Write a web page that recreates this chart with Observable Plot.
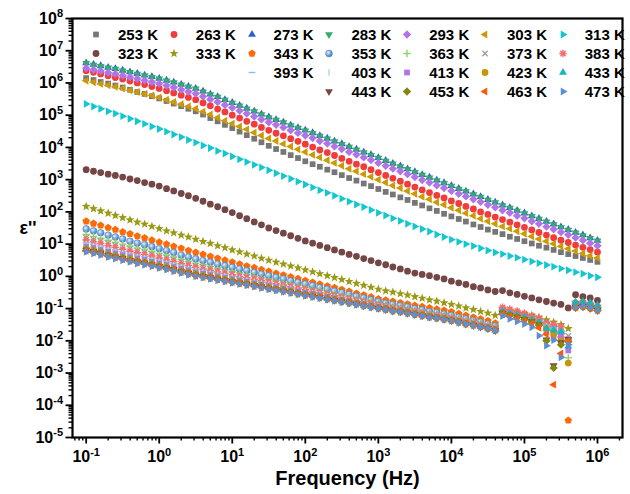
<!DOCTYPE html>
<html><head><meta charset="utf-8">
<script src="https://cdn.jsdelivr.net/npm/d3@7"></script>
<script src="https://cdn.jsdelivr.net/npm/@observablehq/plot@0.6"></script>
<style>
body{margin:0;background:#fff;}
#wrap{position:relative;width:630px;height:494px;font-family:"Liberation Sans",Arial,sans-serif;}
#wrap svg text{font-weight:bold;}
#legend{position:absolute;left:85px;top:24.5px;display:grid;grid-template-columns:repeat(7,77.8px);grid-auto-rows:19px;font-weight:bold;font-size:15px;color:#000;}
.item{display:flex;align-items:center;white-space:nowrap;}
.item svg{width:22px;height:19px;flex:none;overflow:visible;}
.item span{margin-left:11px;}
</style></head><body><div id="wrap"></div>
<script>
// ---------- data (ε'' given as log10) ----------
const freqHz=[0.1,0.126,0.158,0.2,0.251,0.316,0.398,0.501,0.631,0.794,
1,1.26,1.58,2,2.51,3.16,3.98,5.01,6.31,7.94,
10,12.6,15.8,20,25.1,31.6,39.8,50.1,63.1,79.4,
100,126,158,200,251,316,398,501,631,794,
1000,1260,1580,2000,2510,3160,3980,5010,6310,7940,
10000,12600,15800,20000,25100,31600,39800,50100,63100,79400,
100000,126000,158000,200000,251000,316000,398000,501000,631000,794000,
1000000];
const temperaturesK=[253,263,273,283,293,303,313,323,333,343,353,363,373,383,393,403,413,423,433,443,453,463,473];

const log10Eps253=[6.15,6.09,6.03,5.98,5.92,5.86,5.79,5.72,5.66,5.59,
5.52,5.44,5.36,5.28,5.20,5.12,5.02,4.91,4.81,4.70,
4.60,4.49,4.38,4.27,4.16,4.05,3.95,3.86,3.76,3.67,
3.57,3.48,3.40,3.31,3.23,3.14,3.05,2.97,2.88,2.80,
2.71,2.62,2.54,2.45,2.37,2.28,2.20,2.11,2.03,1.94,
1.86,1.78,1.70,1.61,1.53,1.45,1.38,1.31,1.23,1.16,
1.09,1.02,0.95,0.89,0.82,0.75,0.69,0.63,0.57,0.51,
0.45];
const log10Eps263=[6.38,6.33,6.28,6.22,6.17,6.12,6.06,6.00,5.95,5.89,
5.83,5.76,5.69,5.62,5.55,5.48,5.38,5.29,5.19,5.10,
5.00,4.91,4.81,4.72,4.62,4.53,4.44,4.36,4.27,4.19,
4.10,4.01,3.92,3.84,3.75,3.66,3.57,3.48,3.40,3.31,
3.22,3.13,3.04,2.95,2.86,2.77,2.68,2.60,2.51,2.43,
2.34,2.26,2.17,2.09,2.00,1.92,1.84,1.76,1.68,1.60,
1.52,1.44,1.36,1.28,1.20,1.12,1.05,0.97,0.90,0.83,
0.75];
const log10Eps273=[6.62,6.57,6.53,6.48,6.44,6.39,6.34,6.29,6.24,6.19,
6.14,6.08,6.02,5.95,5.89,5.83,5.74,5.65,5.57,5.48,
5.39,5.30,5.21,5.12,5.03,4.94,4.86,4.78,4.69,4.61,
4.53,4.45,4.36,4.28,4.19,4.11,4.02,3.94,3.85,3.77,
3.68,3.59,3.50,3.42,3.33,3.24,3.15,3.07,2.98,2.90,
2.81,2.72,2.64,2.55,2.47,2.38,2.30,2.21,2.13,2.04,
1.96,1.87,1.79,1.70,1.62,1.53,1.45,1.36,1.28,1.19,
1.11];
const log10Eps283=[6.61,6.56,6.52,6.47,6.43,6.38,6.33,6.28,6.23,6.18,
6.13,6.07,6.01,5.94,5.88,5.82,5.73,5.64,5.56,5.47,
5.38,5.29,5.20,5.11,5.02,4.93,4.85,4.77,4.68,4.60,
4.52,4.44,4.35,4.27,4.18,4.10,4.01,3.93,3.84,3.76,
3.67,3.58,3.49,3.41,3.32,3.23,3.14,3.06,2.97,2.89,
2.80,2.71,2.63,2.54,2.46,2.37,2.29,2.20,2.12,2.03,
1.95,1.86,1.78,1.69,1.61,1.52,1.44,1.35,1.27,1.18,
1.10];
const log10Eps293=[6.46,6.41,6.37,6.32,6.28,6.23,6.18,6.13,6.08,6.03,
5.98,5.92,5.86,5.79,5.73,5.67,5.58,5.49,5.41,5.32,
5.23,5.14,5.05,4.96,4.87,4.78,4.70,4.62,4.53,4.45,
4.37,4.29,4.20,4.12,4.03,3.95,3.86,3.78,3.69,3.61,
3.52,3.43,3.34,3.26,3.17,3.08,2.99,2.91,2.82,2.74,
2.65,2.56,2.48,2.39,2.31,2.22,2.14,2.05,1.97,1.88,
1.80,1.71,1.63,1.54,1.46,1.37,1.29,1.20,1.12,1.03,
0.95];
const log10Eps303=[6.07,6.02,5.97,5.93,5.88,5.83,5.77,5.72,5.66,5.61,
5.55,5.48,5.41,5.34,5.27,5.20,5.11,5.02,4.92,4.83,
4.74,4.65,4.56,4.46,4.37,4.28,4.20,4.11,4.03,3.94,
3.86,3.77,3.69,3.60,3.52,3.43,3.34,3.26,3.17,3.09,
3.00,2.91,2.82,2.74,2.65,2.56,2.47,2.39,2.30,2.22,
2.13,2.05,1.96,1.88,1.79,1.71,1.63,1.55,1.48,1.40,
1.32,1.24,1.16,1.09,1.01,0.93,0.86,0.79,0.71,0.64,
0.57];
const log10Eps313=[5.35,5.27,5.20,5.12,5.05,4.97,4.89,4.81,4.73,4.65,
4.57,4.49,4.40,4.32,4.23,4.15,4.06,3.98,3.89,3.81,
3.72,3.63,3.55,3.46,3.38,3.29,3.20,3.11,3.03,2.94,
2.85,2.76,2.67,2.59,2.50,2.41,2.32,2.23,2.15,2.06,
1.97,1.89,1.80,1.72,1.63,1.55,1.47,1.39,1.30,1.22,
1.14,1.07,1.00,0.94,0.87,0.80,0.74,0.69,0.63,0.58,
0.52,0.46,0.41,0.35,0.30,0.24,0.19,0.13,0.08,0.02,
-0.03];
const log10Eps323=[3.31,3.26,3.22,3.17,3.13,3.08,3.02,2.97,2.91,2.86,
2.80,2.72,2.65,2.57,2.50,2.42,2.33,2.24,2.16,2.07,
1.98,1.88,1.79,1.69,1.60,1.50,1.42,1.34,1.26,1.18,
1.10,1.03,0.96,0.89,0.82,0.75,0.68,0.62,0.55,0.49,
0.42,0.36,0.29,0.23,0.16,0.10,0.06,0.02,-0.03,-0.08,
-0.15,-0.20,-0.25,-0.32,-0.36,-0.42,-0.47,-0.44,-0.51,-0.56,
-0.62,-0.67,-0.73,-0.78,-0.83,-0.87,-0.98,-0.57,-0.63,-0.67,
-0.75];
const log10Eps333=[2.17,2.10,2.03,1.96,1.89,1.82,1.75,1.68,1.62,1.55,
1.48,1.41,1.35,1.28,1.22,1.15,1.08,1.02,0.95,0.89,
0.82,0.76,0.69,0.63,0.56,0.50,0.44,0.38,0.32,0.26,
0.20,0.14,0.08,0.02,-0.04,-0.10,-0.16,-0.22,-0.28,-0.34,
-0.40,-0.45,-0.49,-0.54,-0.58,-0.63,-0.68,-0.73,-0.77,-0.82,
-0.87,-0.92,-0.98,-1.03,-1.09,-1.14,-1.21,-1.00,-1.05,-1.10,
-1.15,-1.21,-1.27,-1.35,-1.42,-1.50,-1.62,-0.80,-0.84,-0.88,
-0.93];
const log10Eps343=[1.71,1.64,1.58,1.51,1.45,1.38,1.32,1.25,1.19,1.12,
1.06,1.00,0.93,0.87,0.80,0.74,0.68,0.62,0.56,0.50,
0.44,0.38,0.32,0.27,0.21,0.15,0.09,0.04,-0.02,-0.07,
-0.13,-0.19,-0.24,-0.30,-0.35,-0.41,-0.47,-0.53,-0.58,-0.64,
-0.70,-0.74,-0.78,-0.82,-0.86,-0.90,-0.94,-0.98,-1.02,-1.06,
-1.10,-1.16,-1.21,-1.27,-1.32,-1.38,-1.45,-1.02,-1.08,-1.14,
-1.20,-1.27,-1.35,-1.55,-1.70,-1.90,-4.47,-0.82,-0.80,-0.86,
-0.95];
const log10Eps353=[1.47,1.41,1.35,1.28,1.22,1.16,1.09,1.03,0.98,0.92,
0.86,0.80,0.74,0.66,0.60,0.54,0.49,0.44,0.38,0.33,
0.28,0.23,0.18,0.12,0.07,0.02,-0.03,-0.08,-0.14,-0.19,
-0.24,-0.29,-0.35,-0.40,-0.46,-0.51,-0.56,-0.62,-0.67,-0.73,
-0.78,-0.83,-0.87,-0.91,-0.95,-1.00,-1.04,-1.09,-1.12,-1.17,
-1.21,-1.27,-1.32,-1.37,-1.42,-1.48,-1.54,-1.04,-1.10,-1.16,
-1.22,-1.29,-1.37,-1.47,-1.58,-1.72,-1.95,-0.88,-0.86,-0.90,
-0.98];
const log10Eps363=[1.30,1.24,1.18,1.12,1.06,1.00,0.94,0.88,0.84,0.78,
0.72,0.66,0.60,0.53,0.47,0.41,0.36,0.31,0.26,0.21,
0.16,0.11,0.06,0.01,-0.04,-0.09,-0.13,-0.18,-0.23,-0.28,
-0.33,-0.38,-0.43,-0.48,-0.53,-0.58,-0.63,-0.68,-0.73,-0.78,
-0.83,-0.87,-0.92,-0.95,-1.00,-1.04,-1.08,-1.13,-1.16,-1.20,
-1.25,-1.30,-1.36,-1.40,-1.45,-1.51,-1.57,-1.06,-1.12,-1.18,
-1.25,-1.32,-1.40,-1.50,-1.62,-1.80,-2.53,-0.90,-0.88,-0.93,
-1.00];
const log10Eps373=[1.20,1.14,1.09,1.02,0.96,0.91,0.85,0.79,0.74,0.69,
0.63,0.57,0.52,0.45,0.39,0.33,0.29,0.24,0.19,0.15,
0.10,0.05,0.00,-0.04,-0.09,-0.14,-0.19,-0.24,-0.28,-0.33,
-0.38,-0.43,-0.48,-0.52,-0.57,-0.62,-0.67,-0.72,-0.76,-0.81,
-0.86,-0.90,-0.95,-0.98,-1.03,-1.07,-1.11,-1.16,-1.19,-1.23,
-1.28,-1.33,-1.38,-1.42,-1.48,-1.53,-1.59,-1.05,-1.11,-1.17,
-1.23,-1.30,-1.37,-1.45,-1.52,-1.60,-1.85,-0.88,-0.86,-0.90,
-0.97];
const log10Eps383=[1.13,1.07,1.02,0.95,0.90,0.84,0.78,0.73,0.68,0.63,
0.57,0.51,0.46,0.39,0.34,0.28,0.23,0.19,0.14,0.10,
0.05,0.00,-0.04,-0.09,-0.13,-0.18,-0.23,-0.27,-0.32,-0.36,
-0.41,-0.46,-0.51,-0.55,-0.60,-0.65,-0.70,-0.75,-0.79,-0.84,
-0.89,-0.93,-0.98,-1.01,-1.05,-1.09,-1.14,-1.18,-1.21,-1.25,
-1.30,-1.35,-1.40,-1.44,-1.50,-1.55,-1.61,-0.96,-1.02,-1.08,
-1.15,-1.22,-1.30,-1.45,-1.49,-1.55,-2.04,-0.84,-0.82,-0.86,
-0.93];
const log10Eps393=[1.05,1.00,0.94,0.88,0.82,0.77,0.72,0.66,0.62,0.56,
0.51,0.46,0.40,0.34,0.28,0.22,0.18,0.14,0.09,0.05,
0.00,-0.05,-0.09,-0.14,-0.18,-0.23,-0.27,-0.32,-0.36,-0.41,
-0.45,-0.50,-0.54,-0.59,-0.63,-0.68,-0.73,-0.77,-0.82,-0.86,
-0.91,-0.95,-1.00,-1.03,-1.07,-1.11,-1.16,-1.20,-1.23,-1.27,
-1.31,-1.36,-1.42,-1.46,-1.51,-1.56,-1.62,-1.08,-1.14,-1.20,
-1.27,-1.34,-1.42,-1.52,-1.60,-1.70,-1.95,-0.90,-0.88,-0.93,
-1.00];
const log10Eps403=[0.99,0.94,0.88,0.82,0.76,0.71,0.66,0.60,0.56,0.50,
0.45,0.40,0.34,0.28,0.23,0.18,0.13,0.09,0.05,0.00,
-0.04,-0.08,-0.13,-0.17,-0.22,-0.26,-0.30,-0.35,-0.39,-0.44,
-0.48,-0.53,-0.57,-0.62,-0.66,-0.71,-0.75,-0.80,-0.84,-0.89,
-0.93,-0.97,-1.01,-1.04,-1.09,-1.13,-1.17,-1.21,-1.24,-1.28,
-1.32,-1.37,-1.43,-1.47,-1.52,-1.57,-1.63,-1.10,-1.16,-1.22,
-1.29,-1.36,-1.44,-1.55,-1.65,-1.75,-2.10,-0.92,-0.90,-0.95,
-1.02];
const log10Eps413=[0.93,0.88,0.82,0.76,0.71,0.66,0.60,0.55,0.51,0.45,
0.40,0.35,0.29,0.23,0.18,0.12,0.08,0.04,0.00,-0.05,
-0.09,-0.13,-0.17,-0.22,-0.26,-0.30,-0.34,-0.38,-0.43,-0.47,
-0.51,-0.55,-0.60,-0.64,-0.69,-0.73,-0.77,-0.82,-0.86,-0.91,
-0.95,-0.99,-1.03,-1.06,-1.11,-1.15,-1.19,-1.23,-1.26,-1.30,
-1.34,-1.39,-1.45,-1.49,-1.54,-1.59,-1.65,-1.08,-1.14,-1.20,
-1.27,-1.35,-1.45,-1.72,-1.91,-1.83,-2.30,-0.95,-0.92,-0.97,
-1.03];
const log10Eps423=[0.86,0.81,0.76,0.69,0.64,0.59,0.54,0.49,0.44,0.39,
0.34,0.29,0.24,0.18,0.13,0.08,0.03,-0.01,-0.05,-0.09,
-0.13,-0.17,-0.21,-0.26,-0.30,-0.34,-0.38,-0.42,-0.47,-0.51,
-0.55,-0.59,-0.63,-0.68,-0.72,-0.76,-0.80,-0.84,-0.89,-0.93,
-0.97,-1.01,-1.05,-1.08,-1.12,-1.16,-1.20,-1.24,-1.27,-1.31,
-1.35,-1.40,-1.46,-1.50,-1.55,-1.60,-1.66,-1.12,-1.18,-1.24,
-1.31,-1.38,-1.47,-1.62,-1.80,-2.00,-2.69,-0.93,-0.90,-0.95,
-1.02];
const log10Eps433=[0.83,0.78,0.73,0.67,0.62,0.57,0.51,0.46,0.42,0.37,
0.32,0.27,0.22,0.16,0.11,0.05,0.01,-0.03,-0.07,-0.11,
-0.15,-0.19,-0.23,-0.27,-0.31,-0.36,-0.40,-0.44,-0.48,-0.52,
-0.56,-0.60,-0.64,-0.69,-0.73,-0.77,-0.81,-0.85,-0.90,-0.94,
-0.98,-1.02,-1.06,-1.09,-1.13,-1.17,-1.21,-1.25,-1.28,-1.32,
-1.36,-1.41,-1.47,-1.51,-1.56,-1.61,-1.67,-1.10,-1.16,-1.22,
-1.28,-1.35,-1.43,-1.62,-1.67,-1.72,-2.17,-0.80,-0.78,-0.82,
-0.90];
const log10Eps443=[0.82,0.77,0.72,0.66,0.61,0.56,0.50,0.45,0.41,0.36,
0.31,0.26,0.21,0.15,0.10,0.04,0.00,-0.04,-0.08,-0.12,
-0.16,-0.20,-0.24,-0.28,-0.32,-0.37,-0.41,-0.45,-0.49,-0.53,
-0.57,-0.61,-0.65,-0.70,-0.74,-0.78,-0.82,-0.86,-0.91,-0.95,
-0.99,-1.03,-1.07,-1.10,-1.14,-1.18,-1.22,-1.26,-1.29,-1.33,
-1.37,-1.42,-1.48,-1.52,-1.57,-1.62,-1.68,-1.14,-1.20,-1.26,
-1.33,-1.40,-1.50,-1.97,-2.77,-2.05,-1.95,-0.96,-0.93,-0.98,
-1.05];
const log10Eps453=[0.80,0.75,0.70,0.64,0.59,0.54,0.49,0.44,0.40,0.35,
0.29,0.24,0.19,0.13,0.08,0.03,-0.01,-0.05,-0.09,-0.13,
-0.17,-0.21,-0.25,-0.29,-0.33,-0.37,-0.41,-0.45,-0.49,-0.53,
-0.58,-0.62,-0.66,-0.70,-0.74,-0.78,-0.82,-0.86,-0.90,-0.94,
-0.98,-1.02,-1.06,-1.09,-1.13,-1.18,-1.22,-1.26,-1.29,-1.33,
-1.37,-1.42,-1.47,-1.51,-1.56,-1.61,-1.67,-1.15,-1.21,-1.27,
-1.34,-1.42,-1.52,-2.00,-2.84,-2.12,-2.02,-0.98,-0.95,-1.00,
-1.06];
const log10Eps463=[0.79,0.74,0.69,0.63,0.58,0.53,0.48,0.43,0.39,0.34,
0.29,0.24,0.19,0.13,0.08,0.02,-0.02,-0.06,-0.10,-0.14,
-0.18,-0.22,-0.26,-0.30,-0.34,-0.38,-0.42,-0.46,-0.50,-0.54,
-0.58,-0.62,-0.66,-0.70,-0.74,-0.78,-0.82,-0.86,-0.90,-0.94,
-0.99,-1.03,-1.07,-1.10,-1.14,-1.18,-1.22,-1.26,-1.29,-1.33,
-1.37,-1.42,-1.47,-1.51,-1.56,-1.61,-1.67,-1.18,-1.25,-1.32,
-1.40,-1.48,-1.60,-1.80,-3.36,-2.39,-2.00,-0.97,-0.94,-0.99,
-1.05];
const log10Eps473=[0.76,0.71,0.66,0.60,0.55,0.50,0.45,0.40,0.36,0.31,
0.26,0.21,0.16,0.10,0.05,0.00,-0.04,-0.08,-0.12,-0.16,
-0.20,-0.24,-0.28,-0.32,-0.36,-0.40,-0.44,-0.48,-0.52,-0.56,
-0.60,-0.64,-0.68,-0.72,-0.76,-0.80,-0.84,-0.88,-0.92,-0.96,
-1.00,-1.04,-1.08,-1.11,-1.15,-1.19,-1.23,-1.27,-1.30,-1.34,
-1.38,-1.43,-1.48,-1.52,-1.57,-1.62,-1.68,-1.23,-1.32,-1.40,
-1.48,-1.58,-1.84,-2.15,-1.98,-2.51,-2.12,-0.95,-0.92,-0.97,
-1.05];

const xMajorTicks=[0.1,1,10,100,1000,10000,100000,1000000];
const yMajorTicks=[1e-5,1e-4,1e-3,1e-2,1e-1,1,10,100,1e3,1e4,1e5,1e6,1e7,1e8];
const xDomain=[0.065,2.2e6];
const yDomain=[1e-5,1e8];
const xTitle="Frequency (Hz)";
const yTitle="ε''";

// ---------- styles ----------
const seriesColors=["#767676","#f23b3b","#2a62d6","#36a870","#b174e6","#cc9a06","#13c6d0","#744646","#9a9a17","#ff6a06","#5f95d6","#8fd468","#9d9d9d","#f46c6c","#8db9ee","#a9dfc3","#b075e3","#c7950a","#15b6bf","#774747","#858510","#ff5a0c","#5d8fd2"];
const seriesShapes=["square","circle","triUp","triDown","diamond","triLeft","triRight","circle","star","pentagon","sphere","plus","times","asterisk","dash","vline","square","circle","triUp","triDown","diamond","triLeft","triRight"];
const logSeries=[log10Eps253,log10Eps263,log10Eps273,log10Eps283,log10Eps293,log10Eps303,log10Eps313,log10Eps323,log10Eps333,log10Eps343,log10Eps353,log10Eps363,log10Eps373,log10Eps383,log10Eps393,log10Eps403,log10Eps413,log10Eps423,log10Eps433,log10Eps443,log10Eps453,log10Eps463,log10Eps473];

function polygon(ctx,pts){ctx.moveTo(pts[0][0],pts[0][1]);for(let k=1;k<pts.length;k++)ctx.lineTo(pts[k][0],pts[k][1]);ctx.closePath();}
function regular(n,rotDeg,areaFactor){return {draw(ctx,size){const R=Math.sqrt(size/areaFactor);const pts=[];for(let k=0;k<n;k++){const a=(rotDeg+k*360/n)*Math.PI/180;pts.push([R*Math.cos(a),R*Math.sin(a)]);}polygon(ctx,pts);}};}
function lines(segs){return {draw(ctx,size){const R=Math.sqrt(size)*0.62;for(const [a,b,c,d] of segs){ctx.moveTo(a*R,b*R);ctx.lineTo(c*R,d*R);}}};}
const s2=Math.SQRT1_2;
const shapes={
  square:{draw(ctx,size){const w=Math.sqrt(size)*0.95,h=w/2;ctx.rect(-h,-h,w,w);}},
  circle:{draw(ctx,size){const r=Math.sqrt(size/Math.PI);ctx.moveTo(r,0);ctx.arc(0,0,r,0,2*Math.PI);}},
  sphere:{draw(ctx,size){const r=Math.sqrt(size/Math.PI);ctx.moveTo(r,0);ctx.arc(0,0,r,0,2*Math.PI);}},
  triUp:regular(3,-90,1.75),
  triDown:regular(3,90,1.75),
  triLeft:regular(3,180,1.75),
  triRight:regular(3,0,1.75),
  diamond:regular(4,0,2.1),
  pentagon:regular(5,-90,2.4),
  star:{draw(ctx,size){const R=Math.sqrt(size)*0.78,r=R*0.42;const pts=[];for(let k=0;k<10;k++){const a=(-90+k*36)*Math.PI/180;const rr=k%2?r:R;pts.push([rr*Math.cos(a),rr*Math.sin(a)]);}polygon(ctx,pts);}},
  plus:lines([[-1,0,1,0],[0,-1,0,1]]),
  times:lines([[-s2,-s2,s2,s2],[-s2,s2,s2,-s2]]),
  asterisk:lines([[-1,0,1,0],[0,-1,0,1],[-s2,-s2,s2,s2],[-s2,s2,s2,-s2]]),
  dash:lines([[-0.9,0,0.9,0]]),
  vline:lines([[0,-0.9,0,0.9]])
};
const strokeShapes=new Set(["plus","times","asterisk","dash","vline"]);
function styleFor(idx){
  const shape=seriesShapes[idx],color=seriesColors[idx];
  if(strokeShapes.has(shape))return {fill:"none",stroke:color,strokeWidth:1.4};
  if(shape==="sphere")return {fill:"url(#sphereGrad)",stroke:"#4f84c8",strokeWidth:0.6};
  return {fill:color,stroke:"none"};
}
const R=3.4;

const rows=[];
temperaturesK.forEach((T,s)=>{logSeries[s].forEach((lv,i)=>{if(i<freqHz.length)rows.push({T,s,f:freqHz[i],eps:Math.pow(10,lv)});});});

const dotMarks=temperaturesK.map((T,s)=>Plot.dot(rows.filter(d=>d.s===s),{x:"f",y:"eps",symbol:shapes[seriesShapes[s]],r:R,...styleFor(s)}));

const xMinorTicks=[0.07,0.08,0.09,...xMajorTicks.flatMap(v=>[2,3,4,5,6,7,8,9].map(m=>m*v))].filter(v=>v>=xDomain[0]&&v<=xDomain[1]);
const yMinorTicks=yMajorTicks.slice(0,-1).flatMap(v=>[2,3,4,5,6,7,8,9].map(m=>m*v));
const pow10=v=>"10^"+Math.round(Math.log10(v));

const plot=Plot.plot({
  width:630,height:494,marginLeft:72,marginRight:8,marginTop:18,marginBottom:57,
  style:{fontFamily:'"Liberation Sans",Arial,sans-serif',background:"white",color:"black"},
  x:{type:"log",domain:xDomain},
  y:{type:"log",domain:yDomain},
  marks:[
    ...dotMarks,
    Plot.axisX({ticks:xMinorTicks,tickSize:3.5,strokeWidth:1.4,tickFormat:()=>"",label:null}),
    Plot.axisX({ticks:xMajorTicks,tickSize:6.5,strokeWidth:1.8,tickPadding:7,tickFormat:pow10,fontSize:16,label:null}),
    Plot.axisY({ticks:yMinorTicks,tickSize:3.5,strokeWidth:1.4,tickFormat:()=>"",label:null}),
    Plot.axisY({ticks:yMajorTicks,tickSize:6.5,strokeWidth:1.8,tickPadding:3,tickFormat:pow10,fontSize:16,label:null}),
    Plot.frame({stroke:"black",strokeWidth:2.2}),
    Plot.text([xTitle],{text:d=>d,frameAnchor:"bottom",dy:47,fontSize:20,fontWeight:"bold"}),
    Plot.text([yTitle],{text:d=>d,frameAnchor:"left",dx:-53,fontSize:18,fontWeight:"bold"})
  ]
});

// gradient for sphere symbol
const defs=d3.select(plot).insert("defs",":first-child");
const grad=defs.append("radialGradient").attr("id","sphereGrad").attr("cx","0.38").attr("cy","0.35").attr("r","0.65");
grad.append("stop").attr("offset","0").attr("stop-color","#eef4ff");
grad.append("stop").attr("offset","0.45").attr("stop-color","#8fb6e6");
grad.append("stop").attr("offset","1").attr("stop-color","#3f78c2");

// superscript exponents in tick labels
d3.select(plot).selectAll("text").each(function(){
  const t=this.textContent;const m=/^10\^(-?\d+)$/.exec(t);
  if(m){const sel=d3.select(this);sel.text("");sel.append("tspan").text("10");sel.append("tspan").attr("font-size","11px").attr("dy","-0.6em").text(m[1]);}
});

const wrap=document.getElementById("wrap");
wrap.appendChild(plot);

// legend
const legend=document.createElement("div");legend.id="legend";
temperaturesK.forEach((T,idx)=>{
  let row,col;
  if(idx<7){row=0;col=idx;}else if(idx<14){row=1;col=idx-7;}else if(idx<19){row=2;col=2+idx-14;}else{row=3;col=3+idx-19;}
  const item=document.createElement("div");item.className="item";
  item.style.gridRow=String(row+1);item.style.gridColumn=String(col+1);
  const p=d3.path();shapes[seriesShapes[idx]].draw(p,Math.PI*R*R);
  const st=styleFor(idx);
  const svg=d3.create("svg").attr("width",22).attr("height",19).attr("viewBox","-11 -9.5 22 19");
  svg.append("path").attr("d",p.toString()).attr("fill",st.fill).attr("stroke",st.stroke).attr("stroke-width",st.strokeWidth||0);
  item.appendChild(svg.node());
  const span=document.createElement("span");span.textContent=T+" K";item.appendChild(span);
  legend.appendChild(item);
});
wrap.appendChild(legend);
</script></body></html>
